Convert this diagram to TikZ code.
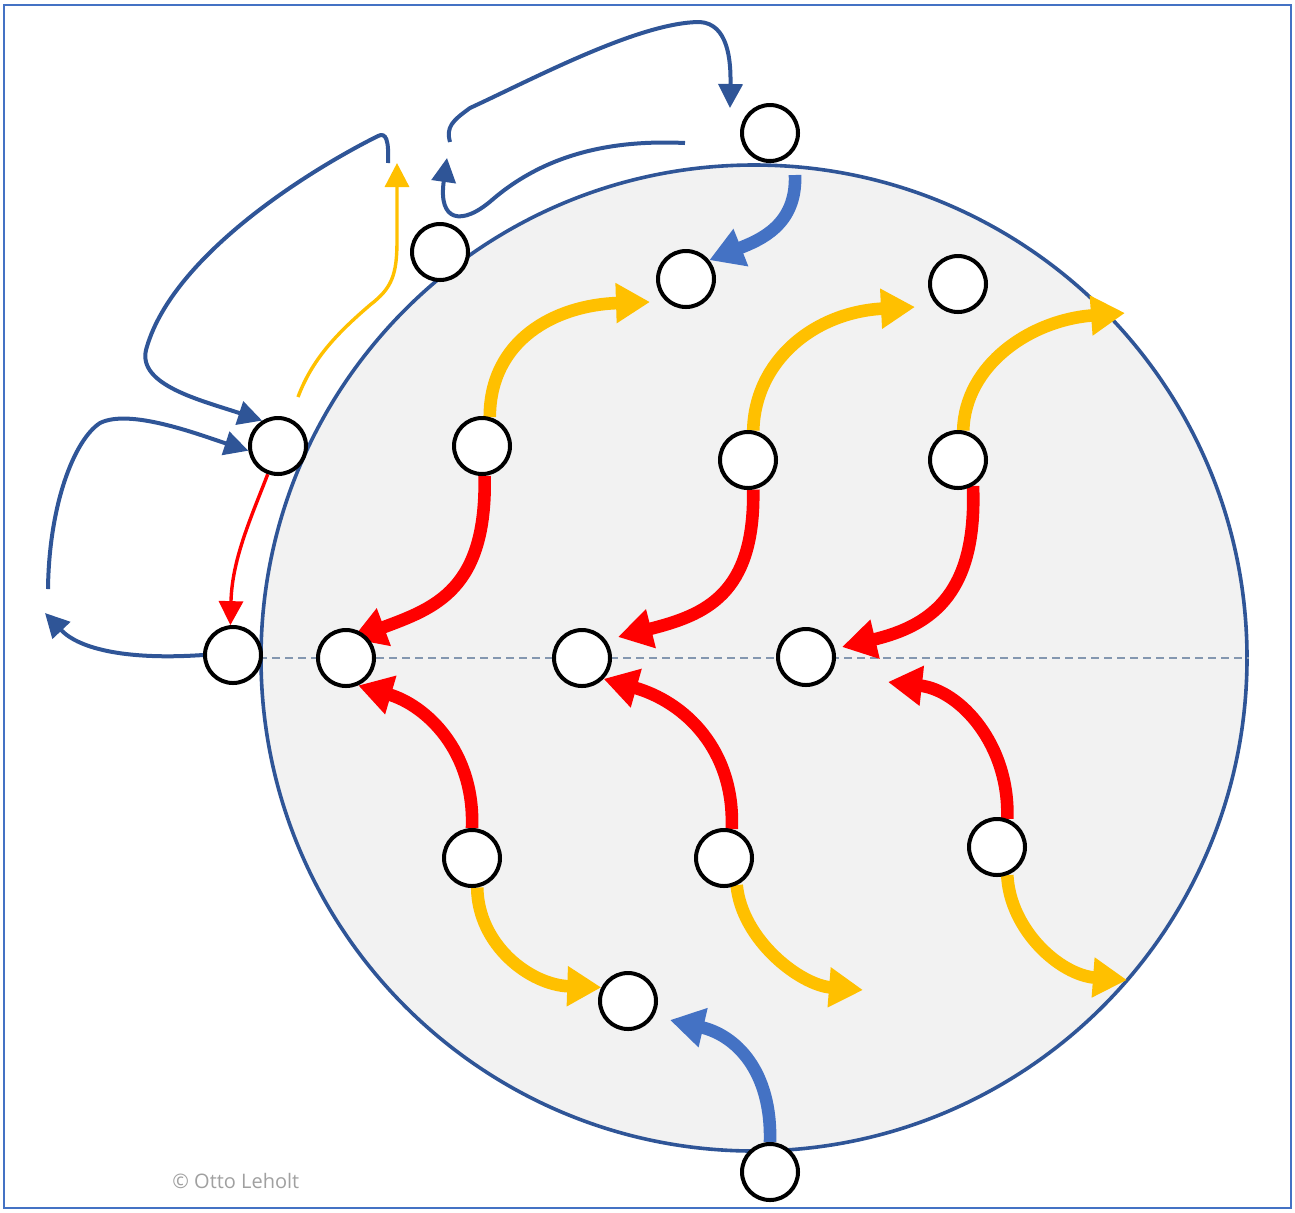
\documentclass[tikz,border=0pt]{standalone}
\usepackage{fontspec}
\setmainfont{Open Sans}
\usetikzlibrary{arrows.meta, backgrounds}

\definecolor{navy}{HTML}{2F5597}
\definecolor{azure}{HTML}{4472C4}
\definecolor{amber}{HTML}{FFC000}
\definecolor{ruby}{HTML}{FF0000}
\definecolor{disc}{HTML}{F2F2F2}
\definecolor{seam}{HTML}{8497B0}
\definecolor{credit}{HTML}{A0A0A0}

\begin{document}
\begin{tikzpicture}[x=0.5pt, y=-0.5pt,
    ball/.style={circle, draw=black, line width=2pt, fill=white, minimum size=28pt, inner sep=0pt},
    fat/.style={line width=6.3pt, -{Triangle[length=17pt, width=19pt]}},
    slim/.style={line width=2pt, -{Triangle[length=12pt, width=12pt]}}]
\useasboundingbox (0,0) rectangle (1295,1212);

%Particles
\node [ball] (top) at (770,133) {};
\node [ball] (lid) at (440,252) {};
\node [ball] (hub1) at (686,279) {};
\node [ball] (hub2) at (958,284) {};
\node [ball] (edge) at (278,446) {};
\node [ball] (a1) at (482,446) {};
\node [ball] (a2) at (748,460) {};
\node [ball] (a3) at (958,460) {};
\node [ball] (wl) at (233,655) {};
\node [ball] (m1) at (346,658) {};
\node [ball] (m2) at (582,658) {};
\node [ball] (m3) at (806,657) {};
\node [ball] (b1) at (472,858) {};
\node [ball] (b2) at (724,858) {};
\node [ball] (b3) at (997,847) {};
\node [ball] (low) at (628,1001) {};
\node [ball] (base) at (770,1172) {};

%Free ends
\coordinate (y1) at (650,302);
\coordinate (y2) at (915,307);
\coordinate (y3) at (1125,313);
\coordinate (y5) at (863,990);
\coordinate (y6) at (1127,980);
\coordinate (r1) at (352,639);
\coordinate (r2) at (618,637);
\coordinate (r3) at (842,647);
\coordinate (r6) at (888,682);
\coordinate (t1) at (795,175);
\coordinate (t2) at (670,1020);
\coordinate (p1) at (685,143);
\coordinate (p1end) at (447,158);
\coordinate (p2) at (450,142);
\coordinate (p2end) at (730,108);
\coordinate (p3) at (388,163);
\coordinate (p4) at (48,589);
\coordinate (p5) at (45,613);
\coordinate (p6) at (298,397);
\coordinate (p6end) at (397,163);

\begin{scope}[on background layer]
\draw [azure, line width=1.25pt] (4,5) rectangle (1291,1208);
\node [circle, draw=navy, line width=1.8pt, fill=disc, minimum size=493pt, inner sep=0pt] (globe) at (754,658) {};
\draw [seam, line width=0.8pt, dash pattern=on 4pt off 2.5pt] (globe.west) -- (globe.east);

%Upper half
\draw [fat, amber] (a1.75) .. controls (490,340) and (555,305) .. (y1);
\draw [fat, amber] (a2.80) .. controls (755,360) and (815,312) .. (y2);
\draw [fat, amber] (a3.80) .. controls (965,365) and (1030,320) .. (y3);
\draw [fat, ruby] (a1.275) .. controls (487,590) and (435,608) .. (r1);
\draw [fat, ruby] (a2.280) .. controls (755,595) and (705,615) .. (r2);
\draw [fat, ruby] (a3.-60) .. controls (977,590) and (935,625) .. (r3);

%Lower half
\draw [fat, ruby] (b1.90) .. controls (475,750) and (425,705) .. (m1.-66);
\draw [fat, ruby] (b2.75) .. controls (735,750) and (685,702) .. (m2.-44);
\draw [fat, ruby] (b3.70) .. controls (1010,745) and (960,690) .. (r6);
\draw [fat, amber] (b1.-80) .. controls (478,945) and (530,985) .. (low.153);
\draw [fat, amber] (b2.-65) .. controls (742,940) and (800,985) .. (y5);
\draw [fat, amber] (b3.-70) .. controls (1010,930) and (1060,975) .. (y6);

%Entering
\draw [fat, azure] (t1) .. controls (797,225) and (760,240) .. (hub1.39);
\draw [fat, azure] (base.north) .. controls (772,1070) and (735,1035) .. (t2);

%Outside loops
\draw [slim, navy] (p1) .. controls (620,140) and (550,150) .. (492,200) .. controls (462,226) and (438,222) .. (p1end);
\draw [slim, navy] (p2) .. controls (446,127) and (452,121) .. (470,108) .. controls (535,78) and (640,22) .. (700,22) .. controls (728,24) and (731,60) .. (p2end);
\draw [slim, navy] (p3) .. controls (389,140) and (386,132) .. (378,136) .. controls (300,175) and (170,260) .. (146,350) .. controls (138,385) and (200,400) .. (edge.122);
\draw [slim, navy] (p4) .. controls (49,505) and (74,440) .. (100,423) .. controls (130,408) and (200,435) .. (edge.-171);
\draw [slim, navy] (wl.west) .. controls (130,660) and (80,650) .. (p5);
\draw [slim, ruby, line width=1.7pt] (edge.250) .. controls (250,520) and (232,560) .. (wl.95);
\draw [slim, amber, line width=1.7pt] (p6) .. controls (312,360) and (335,335) .. (370,305) .. controls (392,288) and (397,275) .. (397,240) -- (p6end);
\end{scope}

%Text
\node [anchor=base west, inner sep=0pt, text=credit, font=\fontsize{10}{12}\selectfont] (mark) at (172,1188) {© Otto Leholt};
\end{tikzpicture}
\end{document}
